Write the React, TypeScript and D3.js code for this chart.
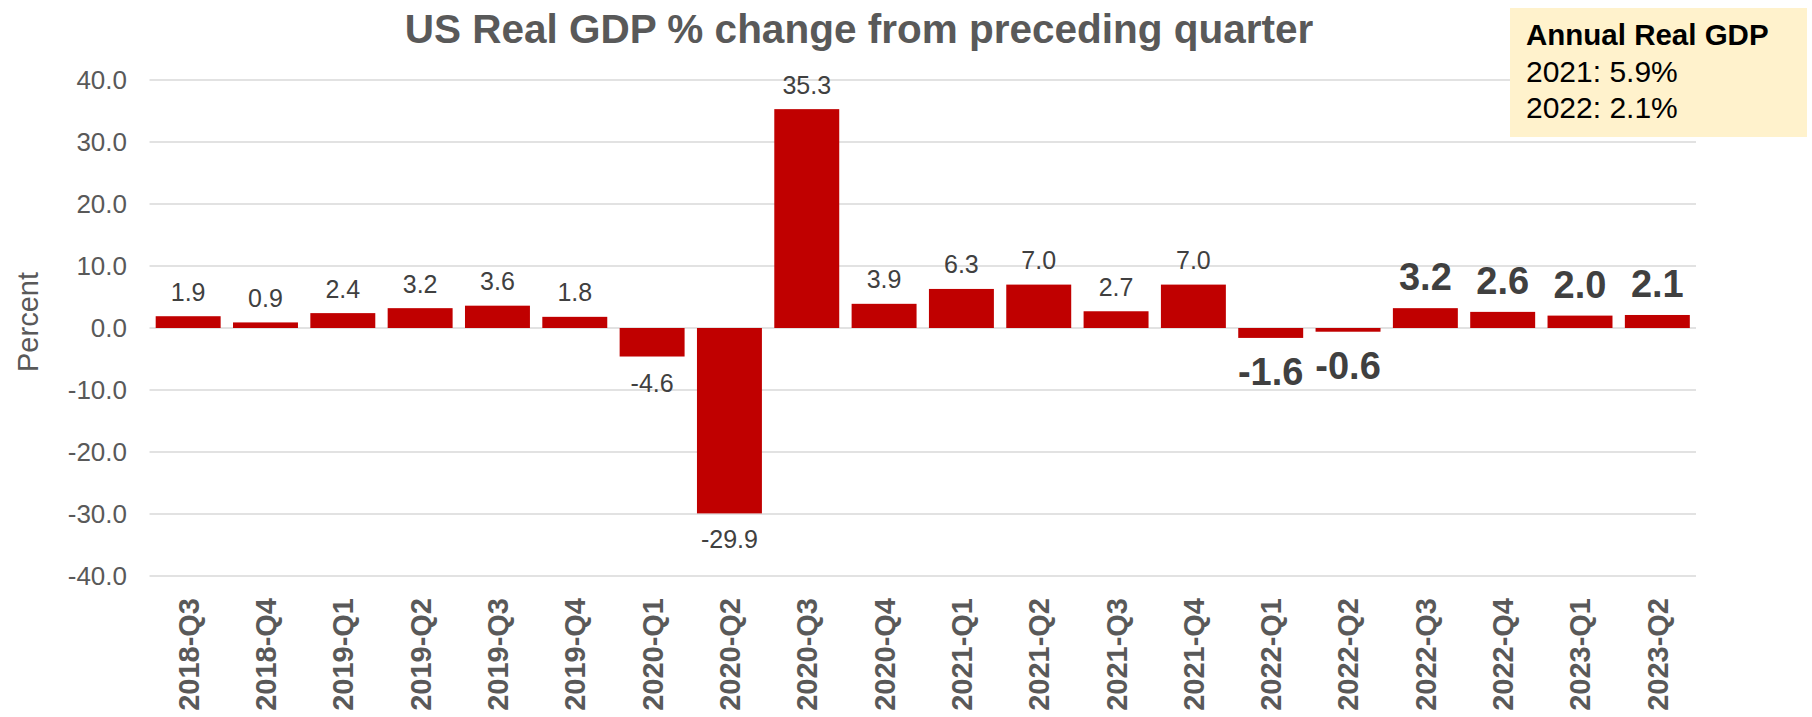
import React from "react";
import * as d3 from "d3";

const categories = [
  "2018-Q3", "2018-Q4", "2019-Q1", "2019-Q2", "2019-Q3", "2019-Q4",
  "2020-Q1", "2020-Q2", "2020-Q3", "2020-Q4", "2021-Q1", "2021-Q2",
  "2021-Q3", "2021-Q4", "2022-Q1", "2022-Q2", "2022-Q3", "2022-Q4",
  "2023-Q1", "2023-Q2",
];
const values = [1.9, 0.9, 2.4, 3.2, 3.6, 1.8, -4.6, -29.9, 35.3, 3.9, 6.3, 7.0, 2.7, 7.0, -1.6, -0.6, 3.2, 2.6, 2.0, 2.1];
const boldFlags = [false, false, false, false, false, false, false, false, false, false, false, false, false, false, true, true, true, true, true, true];
const yTicks = [-40, -30, -20, -10, 0, 10, 20, 30, 40];
const title = "US Real GDP % change from preceding quarter";
const yTitle = "Percent";
const boxLines = ["Annual Real GDP", "2021: 5.9%", "2022: 2.1%"];

const W = 1812;
const H = 717;
const FONT = "'Liberation Sans', Arial, Helvetica, sans-serif";

const fmt = (v: number) => v.toFixed(1);

export default function App() {
  const x = d3.scaleBand<string>().domain(categories).range([149.5, 1696]).paddingInner(0.16).paddingOuter(0.08);
  const y = d3.scaleLinear().domain([-40, 40]).range([576, 80]);

  return (
    <svg width={W} height={H} style={{ position: "absolute", left: 0, top: 0, background: "#fff" }} fontFamily={FONT}>
      {/* gridlines */}
      {yTicks.map((t) => (
        <line key={"g" + t} x1={149.5} x2={1696} y1={y(t)} y2={y(t)} stroke="#d9d9d9" strokeWidth={1.5} />
      ))}
      {/* y tick labels */}
      {yTicks.map((t) => (
        <text key={"t" + t} x={127} y={y(t)} dy="0.36em" textAnchor="end" fontSize={26} fill="#595959">
          {fmt(t)}
        </text>
      ))}
      {/* y title */}
      <text transform={`translate(38,322) rotate(-90)`} textAnchor="middle" fontSize={29} fill="#595959">
        {yTitle}
      </text>
      {/* bars */}
      {values.map((v, i) => (
        <rect
          key={"b" + i}
          x={x(categories[i])}
          width={x.bandwidth()}
          y={Math.min(y(v), y(0))}
          height={Math.abs(y(v) - y(0))}
          fill="#C00000"
        />
      ))}
      {/* value labels */}
      {values.map((v, i) => {
        const cx = (x(categories[i]) as number) + x.bandwidth() / 2;
        const b = boldFlags[i];
        let ty: number;
        if (v >= 0) ty = y(v) - (b ? 18 : 15.5);
        else ty = y(v) + (b ? 47 : 35);
        return (
          <text
            key={"v" + i}
            x={cx}
            y={ty}
            textAnchor="middle"
            fontSize={b ? 38 : 25}
            fontWeight={b ? "bold" : "normal"}
            fill="#404040"
          >
            {fmt(v)}
          </text>
        );
      })}
      {/* x labels */}
      {categories.map((c) => {
        const cx = (x(c) as number) + x.bandwidth() / 2;
        return (
          <text
            key={"x" + c}
            transform={`translate(${cx},598) rotate(-90)`}
            dy="0.36em"
            textAnchor="end"
            fontSize={29}
            fontWeight="bold"
            fill="#595959"
          >
            {c}
          </text>
        );
      })}
      {/* title */}
      <text x={859} y={43} textAnchor="middle" fontSize={40.5} fontWeight="bold" fill="#595959">
        {title}
      </text>
      {/* annotation box */}
      <rect x={1510} y={8} width={297} height={129} fill="#FFF2CC" />
      {boxLines.map((l, i) => (
        <text
          key={"l" + i}
          x={1526}
          y={45 + i * 36.5}
          fontSize={i === 0 ? 29.5 : 30}
          fontWeight={i === 0 ? "bold" : "normal"}
          fill="#000"
        >
          {l}
        </text>
      ))}
    </svg>
  );
}
